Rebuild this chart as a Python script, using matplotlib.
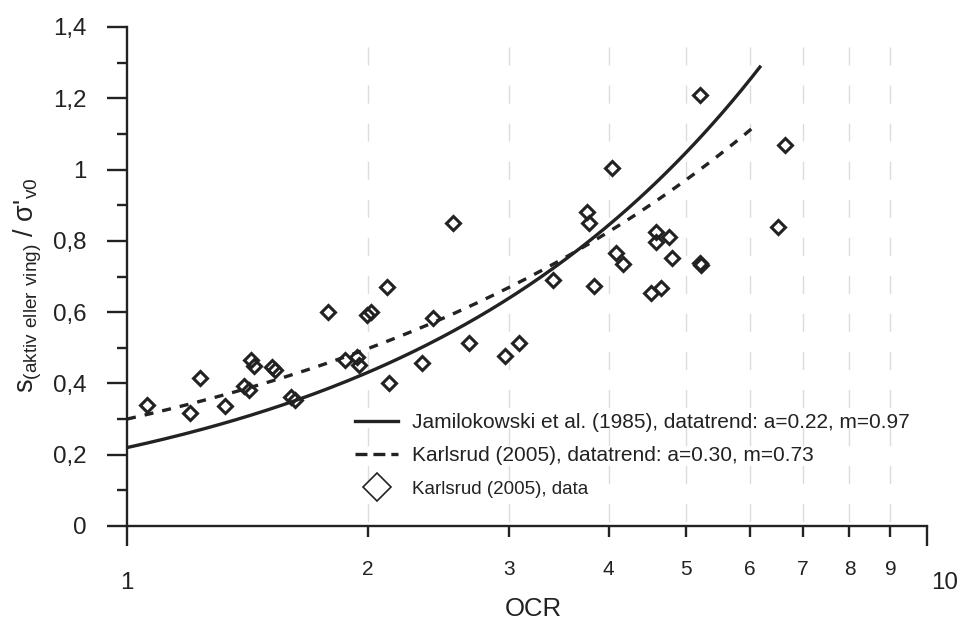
import numpy as np
import matplotlib
matplotlib.use('Agg')
import matplotlib.pyplot as plt
from matplotlib.lines import Line2D
from matplotlib.ticker import FixedLocator, FixedFormatter
import matplotlib.transforms as mtransforms

plt.rcParams['font.family'] = ['Liberation Sans', 'DejaVu Sans']
plt.rcParams['mathtext.default'] = 'regular'
plt.rcParams['lines.scale_dashes'] = False

# Karlsrud (2005) data
ocr_data = [1.059, 1.200, 1.235, 1.327, 1.40, 1.42, 1.43, 1.44, 1.52, 1.53,
            1.605, 1.62, 1.785, 1.873, 1.937, 1.952, 1.995, 2.02, 2.115, 2.126,
            2.338, 2.414, 2.556, 2.676, 2.971, 3.086, 3.41, 3.837, 4.035, 3.763,
            3.785, 4.08, 4.163, 4.58, 4.58, 4.76, 4.80, 4.52, 4.65, 5.21,
            5.21, 5.22, 6.65, 6.52]
s_data = [0.340, 0.316, 0.416, 0.337, 0.393, 0.382, 0.465, 0.450, 0.447, 0.437,
          0.361, 0.353, 0.599, 0.466, 0.473, 0.452, 0.592, 0.601, 0.670, 0.400,
          0.456, 0.583, 0.851, 0.514, 0.477, 0.513, 0.690, 0.673, 1.004, 0.882,
          0.849, 0.765, 0.735, 0.826, 0.798, 0.812, 0.753, 0.655, 0.667, 1.209,
          0.737, 0.732, 1.069, 0.840]

# datatrend s/sigma'v0 = a * OCR^m
trend_labels = ['Jamilokowski et al. (1985), datatrend: a=0.22, m=0.97',
                'Karlsrud (2005), datatrend: a=0.30, m=0.73']
trend_a = [0.22, 0.30]
trend_m = [0.97, 0.73]
trend_ocr_max = [6.2, 6.1]

y_ticks = [0, 0.2, 0.4, 0.6, 0.8, 1.0, 1.2, 1.4]
y_ticklabels = ['0', '0,2', '0,4', '0,6', '0,8', '1', '1,2', '1,4']
x_major = [1, 10]
x_minor = [2, 3, 4, 5, 6, 7, 8, 9]

ink = '#222222'
fig = plt.figure(figsize=(9.66, 6.2), dpi=100)
ax = fig.add_axes([127/966, 1-526/620, 800/966, 499/620])

# dashed grey verticals at minor ticks
for x in x_minor:
    ax.plot([x, x], [1.345, 0], color='#dcdcdc', lw=1.0, dashes=(13, 14.4), zorder=0)

for i in range(2):
    xx = np.geomspace(1, trend_ocr_max[i], 200)
    ln, = ax.plot(xx, trend_a[i] * xx ** trend_m[i], color=ink, lw=2.4,
                  solid_capstyle='butt', zorder=2)
    if i == 1:
        ln.set_dashes((6.5, 6.5))

ax.plot(ocr_data, s_data, ls='none', marker='D', ms=7.2, mfc='none', mec=ink, mew=2.2, zorder=3)

ax.set_xscale('log')
ax.set_xlim(1, 10)
ax.set_ylim(0, 1.4)

for side in ['top', 'right']:
    ax.spines[side].set_visible(False)
for side in ['left', 'bottom']:
    ax.spines[side].set_linewidth(1.7)
    ax.spines[side].set_color(ink)

ax.xaxis.set_major_locator(FixedLocator(x_major))
ax.xaxis.set_major_formatter(FixedFormatter([str(v) for v in x_major]))
ax.xaxis.set_minor_locator(FixedLocator(x_minor))
ax.xaxis.set_minor_formatter(FixedFormatter([str(v) for v in x_minor]))
ax.tick_params(axis='x', which='major', length=14.4, width=1.7, color=ink, pad=18.5,
               labelsize=17.4, labelcolor=ink)
ax.tick_params(axis='x', which='minor', length=8, width=1.7, color=ink, pad=16.5,
               labelsize=15, labelcolor=ink)

ax.set_yticks(y_ticks)
ax.set_yticklabels(y_ticklabels)
ax.set_yticks(np.arange(0.1, 1.4, 0.2), minor=True)
ax.tick_params(axis='y', which='major', length=14.4, width=1.7, color=ink, pad=14.4,
               labelsize=17.4, labelcolor=ink)
ax.tick_params(axis='y', which='minor', length=7.2, width=1.7, color=ink)

# shift the "10" label to the right of its tick
lab10 = ax.xaxis.get_major_ticks()[1].label1
lab10.set_transform(lab10.get_transform() + mtransforms.ScaledTranslation(0.18, 0, fig.dpi_scale_trans))

ax.set_xlabel('OCR', fontsize=18.5, color=ink)
ax.xaxis.set_label_coords(0.5075, -0.142)
ax.set_ylabel(r"s$_{(aktiv\ eller\ ving)}$ / σ'$_{v0}$", fontsize=19.5, color=ink)
ax.yaxis.set_label_coords(-0.104, 0.483)

handles = [Line2D([], [], color=ink, lw=2.4, ls='-'),
           Line2D([], [], color=ink, lw=2.4, dashes=(8.6, 4.3)),
           Line2D([], [], ls='none', marker='D', ms=14, mfc='white', mec=ink, mew=1.2)]
labels = trend_labels + ['Karlsrud (2005), data']
leg = fig.legend(handles, labels, loc='upper left', bbox_to_anchor=(355/966, 1-413/620),
                 frameon=False, fontsize=15, handlelength=2.07, handletextpad=0.67,
                 borderpad=0, borderaxespad=0, labelspacing=0.69)
for t in leg.get_texts():
    t.set_color(ink)
leg.get_texts()[2].set_fontsize(13.5)

fig.savefig('out.png', dpi=100)
